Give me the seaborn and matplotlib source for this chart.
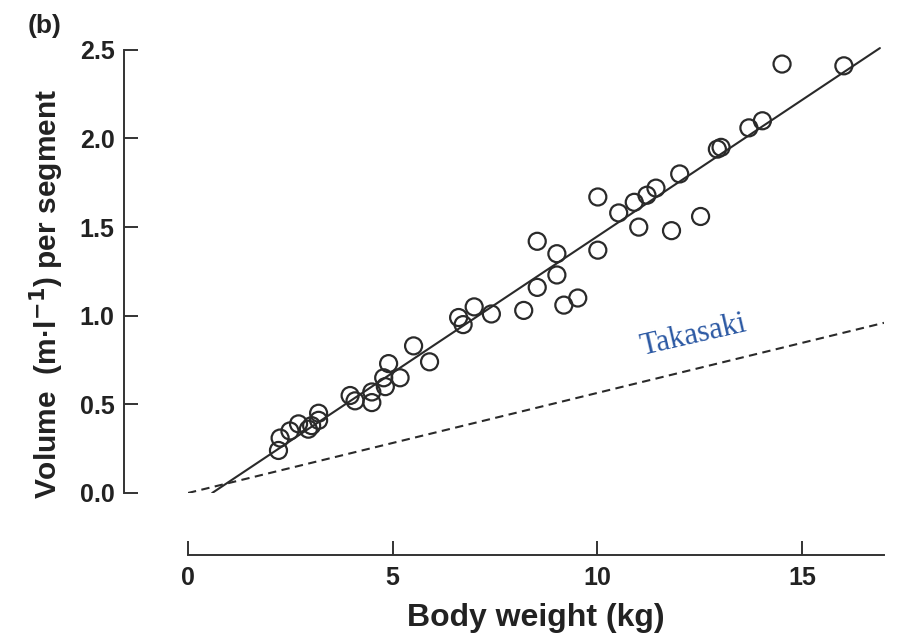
import numpy as np
import pandas as pd
import matplotlib
matplotlib.use("Agg")
import matplotlib.pyplot as plt
import seaborn as sns

# ─── DATA ─────────────────────────────────────────────────────────────────────
body_weight = [2.21, 2.25, 2.49, 2.70, 2.94, 3.02, 3.19, 3.19, 3.96, 4.08,
               4.49, 4.49, 4.78, 4.82, 4.90, 5.18, 5.51, 5.90, 6.61, 6.72,
               6.99, 7.41, 8.20, 8.53, 9.18, 9.52, 8.53, 9.01, 9.01, 10.01,
               10.01, 10.52, 10.90, 11.01, 11.21, 11.43, 11.81, 12.52, 12.01, 12.93,
               13.02, 13.70, 14.03, 14.51, 16.02]
volume = [0.24, 0.31, 0.35, 0.39, 0.36, 0.38, 0.41, 0.45, 0.55, 0.52,
          0.57, 0.51, 0.65, 0.60, 0.73, 0.65, 0.83, 0.74, 0.99, 0.95,
          1.05, 1.01, 1.03, 1.16, 1.06, 1.10, 1.42, 1.35, 1.23, 1.67,
          1.37, 1.58, 1.64, 1.50, 1.68, 1.72, 1.48, 1.56, 1.80, 1.94,
          1.95, 2.06, 2.10, 2.42, 2.41]

# regression line endpoints
fit_x = [0.59, 16.9]
fit_y = [0.0, 2.51]

# Takasaki reference line endpoints
takasaki_x = [0.0, 17.0]
takasaki_y = [0.0, 0.96]

x_ticks = [0, 5, 10, 15]
y_ticks = [0.0, 0.5, 1.0, 1.5, 2.0, 2.5]
# ──────────────────────────────────────────────────────────────────────────────

sns.set_style("ticks")
plt.rcParams['font.family'] = ['Liberation Sans', 'DejaVu Sans']

df = pd.DataFrame({"bw": body_weight, "vol": volume})
fit_df = pd.DataFrame({"x": fit_x, "y": fit_y})
tak_df = pd.DataFrame({"x": takasaki_x, "y": takasaki_y})

fig = plt.figure(figsize=(9.04, 6.40), dpi=100)
ax = fig.add_axes([188 / 904, 1 - 493 / 640, (884 - 188) / 904, (493 - 41) / 640])

ink = '#2a2a2a'

sns.lineplot(data=tak_df, x="x", y="y", ax=ax, color=ink, linewidth=1.5,
             linestyle=(0, (4, 2.6)))
sns.lineplot(data=fit_df, x="x", y="y", ax=ax, color=ink, linewidth=1.5)
sns.scatterplot(data=df, x="bw", y="vol", ax=ax, s=150, marker='o',
                facecolor='none', edgecolor=ink, linewidth=1.6, zorder=3)

ax.set_xlim(0, 17)
ax.set_ylim(0, 2.55)

# detached spines with inward ticks
sns.despine(ax=ax)
ax.spines['left'].set_position(('outward', 46))
ax.spines['bottom'].set_position(('outward', 44.6))
ax.spines['left'].set_bounds(0, 2.5)
ax.spines['bottom'].set_bounds(0, 17)
for side in ['left', 'bottom']:
    ax.spines[side].set_linewidth(1.4)
    ax.spines[side].set_color('#333333')

ax.set_xticks(x_ticks)
ax.set_yticks(y_ticks)
ax.set_yticklabels([f'{v:.1f}' for v in y_ticks], fontweight='bold')
ax.set_xticklabels([str(v) for v in x_ticks], fontweight='bold')
ax.tick_params(direction='in', length=10, width=1.4, color='#333333',
               labelsize=18, labelcolor='#222222')
ax.tick_params(axis='y', pad=7)
ax.tick_params(axis='x', pad=8)

ax.set_xlabel('Body weight (kg)', fontsize=23, fontweight='bold',
              color='#222222', labelpad=9)
ax.set_ylabel('Volume  (m·l$^{\\mathbf{-1}}$) per segment', fontsize=21.5,
              fontweight='bold', color='#222222')
# label sits a bit below the axes centre in the original
ax.yaxis.set_label_coords(-0.176, 0.44)

ax.text(12.34, 0.89, 'Takasaki', family=['Liberation Serif', 'DejaVu Serif'],
        fontsize=22, color='#2b58a3', rotation=13, ha='center', va='center')

fig.text(28 / 904, 1 - 26 / 640, '(b)', fontsize=19, fontweight='bold',
         color='#222222', ha='left', va='center')

fig.savefig('out.png', dpi=100, facecolor='white')
